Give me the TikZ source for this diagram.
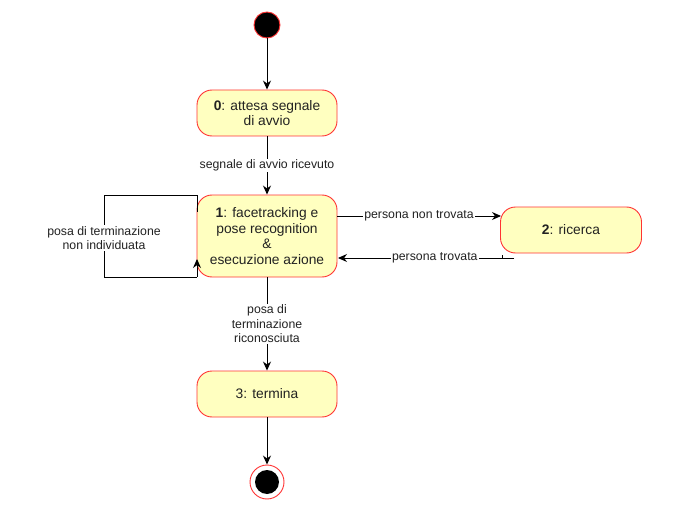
\documentclass[tikz,border=0pt]{standalone}
\usepackage{fontspec}
\setmainfont{Liberation Sans}
\usetikzlibrary{arrows.meta}
\definecolor{stfill}{HTML}{FFFFC0}
\definecolor{stred}{HTML}{FF3333}
\definecolor{txt}{HTML}{222222}
\begin{document}
\begin{tikzpicture}[x=1pt,y=-1pt,
  state/.style={draw=stred,fill=stfill,rounded corners=15pt,minimum width=140pt,align=center,font=\fontsize{13.8}{15.5}\selectfont,text=txt,line width=0.9pt,inner sep=1pt},
  lbl/.style={fill=white,align=center,font=\fontsize{12.3}{14.5}\selectfont,text=txt,inner sep=1pt},
  conn/.style={-{Stealth[length=9pt,width=8pt]},line width=0.9pt},
  plain/.style={line width=0.9pt}]
\useasboundingbox (0,0) rectangle (681,511);
\node[circle,fill=black,draw=stred,line width=0.9pt,minimum size=26pt,inner sep=0pt] (start) at (267,25) {};
\node[state,minimum height=46pt] (s0) at (267,113) {\textbf{0}: attesa segnale\\di avvio};
\node[state,minimum height=82pt] (s1) at (267,236) {\textbf{1}: facetracking e\\pose recognition\\\&\\esecuzione azione};
\node[state,minimum height=46pt,minimum width=141pt] (s2) at (571,230) {\textbf{2}: ricerca};
\node[state,minimum height=46pt] (s3) at (267,394) {3: termina};
\node[circle,draw=stred,fill=white,line width=0.9pt,minimum size=34pt,inner sep=0pt] (endo) at (267,482) {};
\node[circle,fill=black,minimum size=24pt,inner sep=0pt] (endi) at (267,482) {};

\draw[conn] (start) -- (s0);
\draw[conn] (s0) -- node[lbl] (l0) {segnale di avvio ricevuto} (s1);
\draw[conn] (s1) -- node[lbl,pos=0.5] (l3) {posa di\\terminazione\\riconosciuta} (s3);
\draw[conn] (s3) -- (endo);

\coordinate (la) at (197,212);
\coordinate (lb) at (197,195);
\coordinate (lc) at (104,195);
\coordinate (ld) at (104,277);
\coordinate (le) at (197,277);
\coordinate (lf) at (197,259);
\draw[plain] (la) -- (lb) -- (lc) -- (ld) -- (le);
\draw[conn] (le) -- (lf);
\node[lbl] (lloop) at (104,238) {posa di terminazione\\non individuata};

\coordinate (a1) at (337,216);
\coordinate (a2) at (501,216);
\draw[conn] (a1) -- node[lbl,pos=0.5] (ln) {persona non trovata} (a2);
\coordinate (b1) at (514,258);
\coordinate (b2) at (338,258);
\draw[conn] (b1) -- node[lbl,pos=0.45] (lt) {persona trovata} (b2);
\coordinate (tk1) at (502,258);
\coordinate (tk2) at (502,254.5);
\draw[line width=0.6pt] (tk1) -- (tk2);
\end{tikzpicture}
\end{document}
